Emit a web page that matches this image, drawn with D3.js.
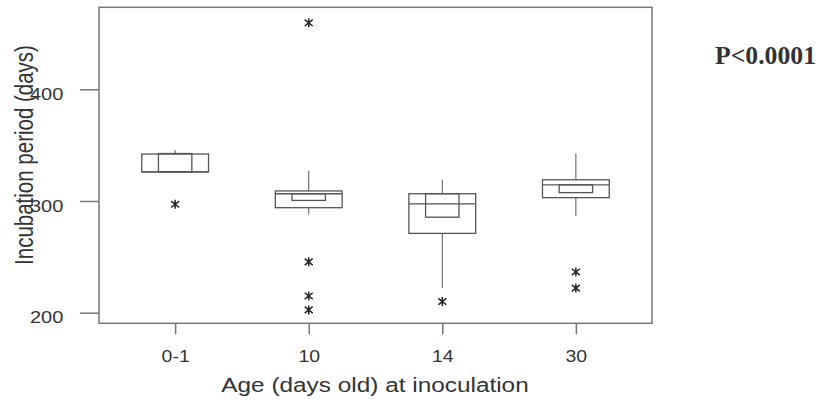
<!DOCTYPE html>
<html>
<head>
<meta charset="utf-8">
<script src="https://cdn.jsdelivr.net/npm/d3@7"></script>
<style>
    body { margin: 0; background: #ffffff; }
    #chart { width: 824px; height: 405px; }
    text { font-family: "Liberation Sans", Arial, sans-serif; fill: #333333; }
</style>
</head>
<body>
<div id="chart"></div>
<script>

// age groups (days old at inoculation)
const groups = ["0-1", "10", "14", "30"];

// box statistics (days)
const q1 = [326, 294, 271, 303];
const median = [326, 306.5, 297.5, 314.5];
const q3 = [342, 309, 306.5, 319];
const ciLow = [326, 300.5, 285.5, 307.5];
const ciHigh = [342.5, 306.5, 306.5, 314.5];
const whiskerLow = [326, 288, 222, 286.5];
const whiskerHigh = [345.5, 327, 319, 342.5];

// outliers (*)
const outlierGroup = ["0-1", "10", "10", "10", "10", "14", "30", "30"];
const outlierValue = [297, 459.5, 245.5, 215, 202.5, 210, 236.5, 222];

const yTicks = [200, 300, 400];


/*
DIMENSIONS + SVG
*/
const width = 824;
const height = 405;
const margin = {top: 7.3, left: 99, right: 172, bottom: 81.7};

const svg = d3.select("#chart")
    .append("svg")
    .attr("width", width)
    .attr("height", height);

const boxes = groups.map(function(g, i) {
    return {
        group: g,
        q1: q1[i], median: median[i], q3: q3[i],
        ciLow: ciLow[i], ciHigh: ciHigh[i],
        lo: whiskerLow[i], hi: whiskerHigh[i]
    };
});

const outliers = outlierGroup.map(function(g, i) {
    return {group: g, value: outlierValue[i]};
});


/*
SCALES
*/
const xScale = d3.scalePoint()
    .domain(groups)
    .range([margin.left, width - margin.right])
    .padding(0.57);

const yScale = d3.scaleLinear()
    .domain([190.5, 473.4])
    .range([height - margin.bottom, margin.top]);

const step = xScale.step();
const boxW = step * 0.5;
const ciW = step * 0.25;

const lineColor = "#555555";
const frameColor = "#777777";


/*
AXES
*/
const xAxis = svg.append("g")
    .attr("transform", `translate(0,${height - margin.bottom})`)
    .call(d3.axisBottom(xScale).tickSize(11));

xAxis.select(".domain").remove();
xAxis.selectAll("line").attr("stroke", frameColor).attr("stroke-width", 1.5);
xAxis.selectAll("text")
    .attr("y", null)
    .attr("dy", null)
    .attr("transform", "translate(0,38.7) scale(1.18,1)")
    .style("font-size", "16.5px")
    .style("font-family", "'Liberation Sans', Arial, sans-serif")
    .attr("fill", "#333333");

const yAxis = svg.append("g")
    .attr("transform", `translate(${margin.left},0)`)
    .call(d3.axisLeft(yScale).tickValues(yTicks).tickSize(19));

yAxis.select(".domain").remove();
yAxis.selectAll("line").attr("stroke", frameColor).attr("stroke-width", 1.5);
yAxis.selectAll("text")
    .attr("x", null)
    .attr("dy", null)
    .attr("text-anchor", "end")
    .attr("transform", "translate(-35.7,10.3) scale(1.25,1)")
    .style("font-size", "16px")
    .style("font-family", "'Liberation Sans', Arial, sans-serif")
    .attr("fill", "#333333");

// frame
svg.append("rect")
    .attr("x", margin.left)
    .attr("y", margin.top)
    .attr("width", width - margin.right - margin.left)
    .attr("height", height - margin.bottom - margin.top)
    .attr("fill", "none")
    .attr("stroke", frameColor)
    .attr("stroke-width", 1.5);


/*
BOXES
*/
const box = svg.selectAll(".box")
    .data(boxes)
    .enter()
    .append("g")
        .attr("class", "box");

// whiskers
box.append("line")
    .attr("x1", function(d) { return xScale(d.group); })
    .attr("x2", function(d) { return xScale(d.group); })
    .attr("y1", function(d) { return yScale(d.q3); })
    .attr("y2", function(d) { return yScale(d.hi); })
    .attr("stroke", lineColor);

box.append("line")
    .attr("x1", function(d) { return xScale(d.group); })
    .attr("x2", function(d) { return xScale(d.group); })
    .attr("y1", function(d) { return yScale(d.q1); })
    .attr("y2", function(d) { return yScale(d.lo); })
    .attr("stroke", lineColor);

// interquartile box
box.append("rect")
    .attr("x", function(d) { return xScale(d.group) - boxW / 2; })
    .attr("y", function(d) { return yScale(d.q3); })
    .attr("width", boxW)
    .attr("height", function(d) { return yScale(d.q1) - yScale(d.q3); })
    .attr("fill", "none")
    .attr("stroke", lineColor)
    .attr("stroke-width", 1.3);

// median confidence box
box.append("rect")
    .attr("x", function(d) { return xScale(d.group) - ciW / 2; })
    .attr("y", function(d) { return yScale(d.ciHigh); })
    .attr("width", ciW)
    .attr("height", function(d) { return yScale(d.ciLow) - yScale(d.ciHigh); })
    .attr("fill", "none")
    .attr("stroke", lineColor)
    .attr("stroke-width", 1.3);

// median
box.append("line")
    .attr("x1", function(d) { return xScale(d.group) - boxW / 2; })
    .attr("x2", function(d) { return xScale(d.group) + boxW / 2; })
    .attr("y1", function(d) { return yScale(d.median); })
    .attr("y2", function(d) { return yScale(d.median); })
    .attr("stroke", lineColor)
    .attr("stroke-width", 1.3);


/*
OUTLIERS
*/
svg.selectAll(".outlier")
    .data(outliers)
    .enter()
    .append("path")
        .attr("class", "outlier")
        .attr("transform", function(d) { return `translate(${xScale(d.group)},${yScale(d.value)})`; })
        .attr("d", "M0,-4.5V4.5M-4,-3.2L4,3.2M-4,3.2L4,-3.2")
        .attr("fill", "none")
        .attr("stroke", "#222222")
        .attr("stroke-width", 1.5);


/*
LABELS
*/
svg.append("text")
    .attr("transform", "translate(375,392) scale(1.25,1)")
    .attr("text-anchor", "middle")
    .style("font-size", "19.5px")
    .text("Age (days old) at inoculation");

svg.append("text")
    .attr("transform", "translate(33,155) scale(1.22,1) rotate(-90)")
    .attr("text-anchor", "middle")
    .style("font-size", "20.5px")
    .text("Incubation period (days)");

svg.append("text")
    .attr("x", 715)
    .attr("y", 64)
    .attr("textLength", 101)
    .attr("lengthAdjust", "spacingAndGlyphs")
    .style("font-family", "'Liberation Serif', 'Times New Roman', serif")
    .style("font-weight", "bold")
    .style("font-size", "26px")
    .attr("fill", "#111111")
    .text("P<0.0001");

</script>
</body>
</html>
